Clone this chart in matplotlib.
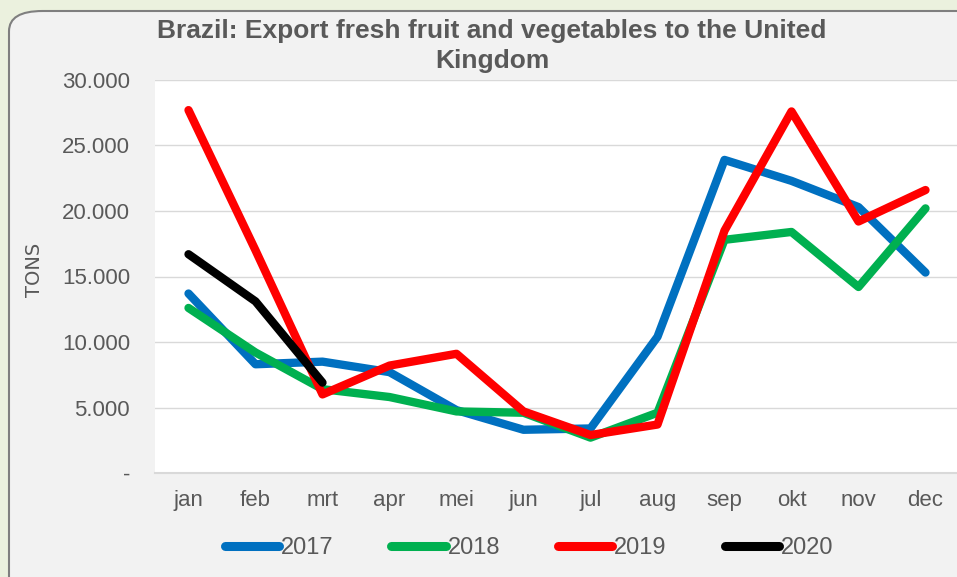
import matplotlib.pyplot as plt
from matplotlib.patches import FancyBboxPatch

# monthly export volumes (tons)
months = ['jan', 'feb', 'mrt', 'apr', 'mei', 'jun', 'jul', 'aug', 'sep', 'okt', 'nov', 'dec']
y2017 = [13700, 8300, 8500, 7700, 4800, 3300, 3400, 10400, 23900, 22300, 20300, 15300]
y2018 = [12600, 9200, 6400, 5800, 4700, 4600, 2700, 4600, 17800, 18400, 14200, 20200]
y2019 = [27700, 17000, 6000, 8200, 9100, 4700, 2900, 3700, 18500, 27600, 19200, 21600]
y2020 = [16700, 13100, 6900]
yticks = [0, 5000, 10000, 15000, 20000, 25000, 30000]
ytick_labels = ['-', '5.000', '10.000', '15.000', '20.000', '25.000', '30.000']

plt.rcParams['font.family'] = ['Liberation Sans', 'DejaVu Sans']
W, H = 957, 577
fig = plt.figure(figsize=(W / 100, H / 100), dpi=100)
fig.patch.set_facecolor('#ebf1de')

# rounded frames behind the chart
top_box = FancyBboxPatch((20 / W, -60 / H), 925 / W, 63 / H,
                         boxstyle='round,pad=0,rounding_size=0.02',
                         transform=fig.transFigure, facecolor='#f2f2f2',
                         edgecolor='#7f7f7f', linewidth=1.5, zorder=-2)
frame = FancyBboxPatch((9 / W, -40 / H), 1040 / W, 606 / H,
                       boxstyle='round,pad=0,rounding_size=0.035',
                       transform=fig.transFigure, facecolor='#f2f2f2',
                       edgecolor='#7f7f7f', linewidth=1.5, zorder=-1)
fig.add_artist(top_box)
fig.add_artist(frame)

ax = fig.add_axes([155 / W, (H - 473) / H, 804 / W, 393 / H])
ax.set_facecolor('white')

x = list(range(len(months)))
lw = 6
style = dict(lw=lw, solid_capstyle='round', solid_joinstyle='round')
ax.plot(x, y2017, color='#0070c0', label='2017', **style)
ax.plot(x, y2018, color='#00b050', label='2018', **style)
ax.plot(x, y2019, color='#ff0000', label='2019', **style)
ax.plot(x[:len(y2020)], y2020, color='#000000', label='2020', **style)

ax.set_xlim(-0.5, 11.5)
ax.set_ylim(0, 30000)
ax.set_yticks(yticks)
ax.set_yticklabels(ytick_labels)
ax.set_xticks(x)
ax.set_xticklabels(months)
ax.grid(axis='y', color='#d9d9d9', lw=1)
ax.set_axisbelow(True)
for s in ['top', 'right', 'left']:
    ax.spines[s].set_visible(False)
ax.spines['bottom'].set_color('#d9d9d9')
ax.spines['bottom'].set_linewidth(1.5)
ax.tick_params(length=0, labelsize=16, colors='#595959')
ax.tick_params(axis='y', pad=18)
ax.tick_params(axis='x', pad=12)

fig.text(35 / W, (H - 270) / H, 'TONS', rotation=90, ha='center', va='center',
         fontsize=14, color='#595959', family=['DejaVu Sans'])
fig.text(492 / W, (H - 46) / H, 'Brazil: Export fresh fruit and vegetables to the United\nKingdom',
         ha='center', va='center', fontsize=19, fontweight='bold', color='#595959',
         linespacing=1.3)

leg = fig.legend(loc='center', bbox_to_anchor=(529 / W, (H - 548) / H), ncol=4,
                 frameon=False, fontsize=17, handlelength=2.3, handletextpad=0.08,
                 columnspacing=2.45)
for line in leg.get_lines():
    line.set_linewidth(6.5)
    line.set_solid_capstyle('round')
for t in leg.get_texts():
    t.set_color('#595959')

fig.savefig('out.png', dpi=100, facecolor=fig.get_facecolor())
